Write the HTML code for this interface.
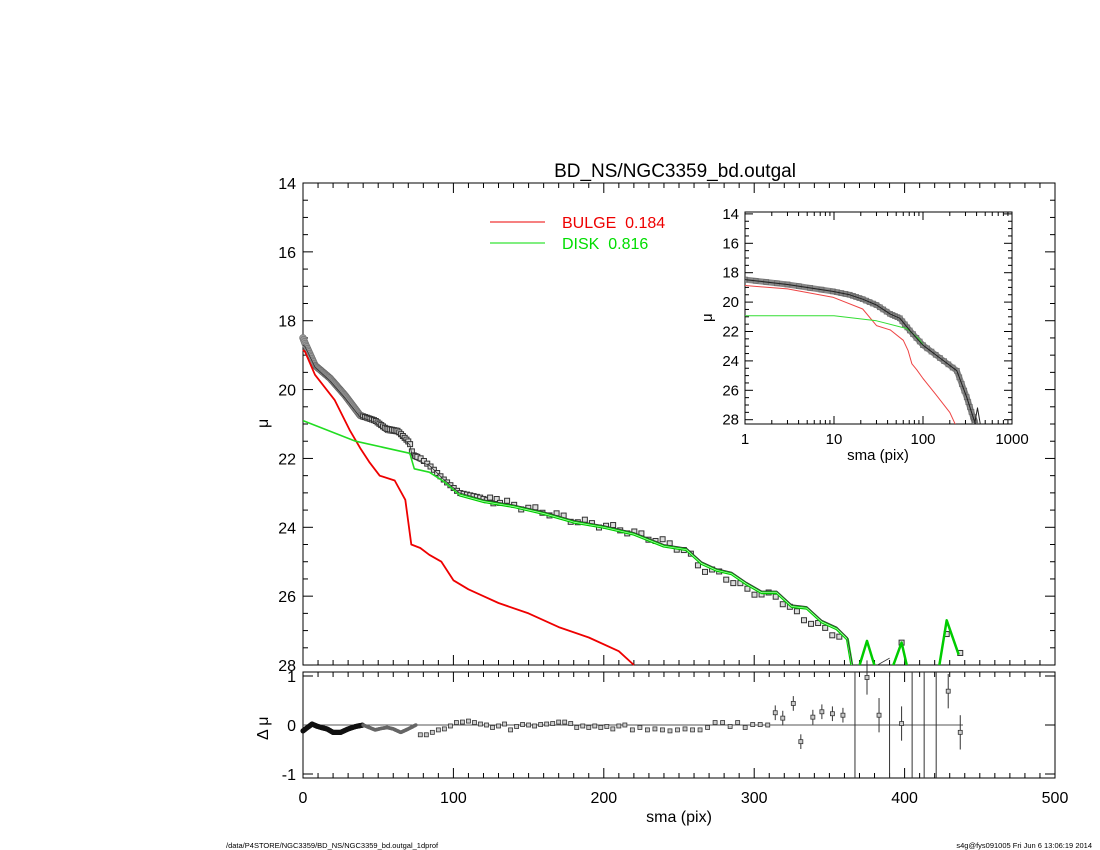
<!DOCTYPE html>
<html><head><meta charset="utf-8"><style>
body{margin:0;background:#fff}
svg{display:block;font-family:"Liberation Sans",sans-serif}
</style></head><body>
<svg id="s" width="1100" height="850" viewBox="0 0 1100 850" xmlns="http://www.w3.org/2000/svg">
<text x="675" y="177" font-size="19" text-anchor="middle">BD_NS/NGC3359_bd.outgal</text>
<text x="226" y="848" font-size="7.5">/data/P4STORE/NGC3359/BD_NS/NGC3359_bd.outgal_1dprof</text>
<text x="1092" y="848" font-size="7.5" text-anchor="end">s4g@fys091005  Fri Jun  6 13:06:19 2014</text>
<line x1="490" y1="222" x2="545" y2="222" stroke="#e00" stroke-width="1"/>
<text x="562" y="228" font-size="16" fill="#e00">BULGE&#160;&#160;0.184</text>
<line x1="490" y1="243" x2="545" y2="243" stroke="#0d0" stroke-width="1"/>
<text x="562" y="249" font-size="16" fill="#0d0">DISK&#160;&#160;0.816</text>
<g id="g"></g>
</svg>
<script>
var g=document.getElementById('g'),h='';
function X(s){return 303+s*1.504}
function Y(m){return 183+(m-14)*34.43}
function RY(d){return 725-d*49}
function pl(pts,c,w,fx,fy){return '<polyline fill="none" stroke="'+c+'" stroke-width="'+w+'" stroke-linejoin="round" points="'+pts.map(p=>fx(p[0]).toFixed(1)+','+fy(p[1]).toFixed(1)).join(' ')+'"/>';}
function interp(a,x){for(var i=1;i<a.length;i++){if(x<=a[i][0]){var t=(x-a[i-1][0])/(a[i][0]-a[i-1][0]);return a[i-1][1]+t*(a[i][1]-a[i-1][1]);}}return a[a.length-1][1];}
h+='<defs><clipPath id="c1"><rect x="303" y="183" width="752" height="482"/></clipPath><clipPath id="c2"><rect x="745" y="212" width="267" height="212"/></clipPath></defs>';
h+='<rect x="303" y="183" width="752" height="482" fill="none" stroke="#000" stroke-width="1"/>';
h+='<rect x="303" y="672" width="752" height="106" fill="none" stroke="#000" stroke-width="1"/>';
for(var s=0;s<=500;s+=10){var L=(s%100==0)?10:5;var x=X(s);
h+='<line x1="'+x+'" y1="665" x2="'+x+'" y2="'+(665-L)+'" stroke="#000"/><line x1="'+x+'" y1="183" x2="'+x+'" y2="'+(183+L)+'" stroke="#000"/>';
h+='<line x1="'+x+'" y1="778" x2="'+x+'" y2="'+(778-L)+'" stroke="#000"/><line x1="'+x+'" y1="672" x2="'+x+'" y2="'+(672+L)+'" stroke="#000"/>';
if(s%100==0)h+='<text x="'+x+'" y="803" font-size="16" text-anchor="middle">'+s+'</text>';}
h+='<text x="679" y="822" font-size="16" text-anchor="middle">sma (pix)</text>';
for(var m=14;m<=28;m+=0.5){var y=Y(m),L=(m%2==0)?10:5;
h+='<line x1="303" y1="'+y+'" x2="'+(303+L)+'" y2="'+y+'" stroke="#000"/><line x1="1055" y1="'+y+'" x2="'+(1055-L)+'" y2="'+y+'" stroke="#000"/>';
if(m%2==0)h+='<text x="296" y="'+(y+6)+'" font-size="16" text-anchor="end">'+m+'</text>';}
h+='<text x="268" y="428" font-size="16" transform="rotate(-90 268 428)">μ</text>';
[-1,0,1].forEach(function(d){var y=RY(d);h+='<text x="296" y="'+(y+6)+'" font-size="16" text-anchor="end">'+d+'</text><line x1="303" y1="'+y+'" x2="313" y2="'+y+'" stroke="#000"/><line x1="1055" y1="'+y+'" x2="1045" y2="'+y+'" stroke="#000"/>';});
h+='<text x="268" y="740" font-size="16" transform="rotate(-90 268 740)">Δ μ</text>';
h+='<line x1="303" y1="725" x2="963" y2="725" stroke="#555"/>';
var obs=[[0,18.5],[1.3,18.65],[8,19.3],[18,19.67],[28,20.17],[38,20.75],[48,20.9],[55,21.13],[63,21.2],[71,21.55],[73,21.9],[78,21.99],[84,22.2],[94,22.63],[104,23.0],[124,23.2],[135,23.3],[150,23.45],[165,23.6],[180,23.8],[200,23.95],[215,24.1],[230,24.3],[245,24.5],[255,24.7],[265,25.2],[275,25.3],[285,25.55],[295,25.8],[305,25.95],[315,26.0],[325,26.4],[335,26.7],[345,26.9],[358,27.2]];
var mod=[[0,18.7],[1.3,18.75],[8,19.35],[18,19.75],[28,20.25],[38,20.8],[48,20.95],[55,21.25],[63,21.3],[71,21.6],[73,22.0],[78,22.1],[84,22.2],[94,22.63],[104,23.0],[120,23.2],[140,23.35],[160,23.55],[180,23.8],[200,23.95],[220,24.15],[240,24.5],[255,24.6],[265,25.0],[275,25.2],[285,25.3],[295,25.6],[305,25.85],[315,25.85],[325,26.25],[335,26.3],[345,26.7],[355,26.9],[362,27.2],[366,28.2]];
var dsk1=[[0,20.9],[35,21.5],[71,21.85],[74,22.3],[84,22.4],[94,22.68],[104,23.06]];
var dsk2=[[104,23.06],[120,23.25],[140,23.4],[160,23.6],[180,23.85],[200,24.0],[220,24.2],[240,24.55],[255,24.65],[265,25.05],[275,25.25],[285,25.35],[295,25.65],[305,25.9],[315,25.9],[325,26.3],[335,26.35],[345,26.75],[355,26.95],[362,27.25],[366,28.3]];
for(var s=0;s<=358;s+=(s<40?0.5:(s<75?1.2:(s<130?2.2:4.7)))){
 var m=interp(obs,s)+(s>120?Math.sin(s*1.7)*0.08:0);
 if(s<40){h+='<circle cx="'+X(s)+'" cy="'+Y(m)+'" r="3.5" fill="#999" stroke="#666" stroke-width="0.5"/>';}
 else h+='<rect x="'+(X(s)-2.5)+'" y="'+(Y(m)-2.5)+'" width="5" height="5" fill="#ddd" stroke="#333" stroke-width="1"/>';
}
[[398,27.35],[437,27.65],[428,27.1]].forEach(function(p){h+='<rect x="'+(X(p[0])-2.5)+'" y="'+(Y(p[1])-2.5)+'" width="5" height="5" fill="#ddd" stroke="#333"/>';});
var bul=[[0,18.85],[1.3,18.9],[8,19.57],[21,20.3],[31,21.17],[38,21.7],[44,22.1],[51,22.5],[61,22.64],[68,23.2],[72,24.5],[78,24.6],[84,24.8],[92,25.0],[100,25.54],[110,25.8],[120,26.0],[130,26.2],[150,26.5],[170,26.9],[190,27.2],[210,27.6],[220,28.0]];
h+=pl(bul,'#e00',1.8,X,Y);
h+='<g clip-path="url(#c1)">'+pl(dsk1,'#2d2',1.6,X,Y)+pl(dsk2,'#0c0',3,X,Y)+pl(dsk2,'#bfb',0.7,X,Y)+pl(mod,'#333',0.8,X,Y)
 +pl([[368,28.3],[375,27.3],[382,28.3]],'#0c0',2.5,X,Y)+pl([[390,28.3],[398,27.35],[403,28.3]],'#0c0',2.5,X,Y)
 +pl([[422,28.3],[428,26.7],[436,27.7]],'#0c0',2.5,X,Y)+pl([[382,28],[390,27.8]],'#333',0.8,X,Y)+'</g>';
var rc=[[0,-0.12],[3,-0.05],[6,0.02],[9,-0.02],[12,-0.05],[16,-0.08],[20,-0.15],[25,-0.15],[30,-0.08],[35,-0.03],[40,0],[44,-0.05],[48,-0.1],[52,-0.07],[56,-0.05],[60,-0.08],[65,-0.15],[70,-0.08],[75,0]];
for(var s=0;s<=75;s+=0.5){var d=interp(rc,s);
 h+='<circle cx="'+X(s)+'" cy="'+RY(d)+'" r="'+(s<40?2.6:1.8)+'" fill="'+(s<40?'#111':'#666')+'"/>';}
var res=[[78,-0.2],[82,-0.2],[86,-0.15],[90,-0.1],[94,-0.08],[98,-0.02],[102,0.05],[106,0.06],[110,0.08],[114,0.05],[118,0.02],[122,0],[126,-0.05],[130,-0.02],[134,0.02],[138,-0.1],[142,-0.03],[146,0.01],[150,0.0],[154,-0.02],[158,0.01],[162,0.02],[166,0.03],[170,0.06],[174,0.06],[178,0.03],[182,-0.05],[186,-0.02],[190,-0.05],[194,-0.02],[198,-0.05],[202,-0.03],[206,-0.08],[210,-0.02],[214,0.0],[219,-0.1],[224,-0.05],[229,-0.1],[234,-0.08],[239,-0.1],[244,-0.12],[249,-0.1],[254,-0.08],[259,-0.1],[264,-0.1],[269,-0.05],[274,0.05],[279,0.05],[284,-0.03],[289,0.05],[294,-0.05],[299,0.01],[304,0.01],[309,0],[314,0.25],[319,0.14],[326,0.44],[331,-0.34],[339,0.16],[345,0.27],[352,0.23],[359,0.2],[375,0.97],[383,0.2],[398,0.03],[429,0.69],[437,-0.15]];
res.forEach(function(p){var x=X(p[0]),y=RY(p[1]);if(p[0]>310){var e=p[0]>360?0.35:0.15;h+='<line x1="'+x+'" y1="'+RY(p[1]+e)+'" x2="'+x+'" y2="'+RY(p[1]-e)+'" stroke="#333"/>';}
 h+='<rect x="'+(x-2)+'" y="'+(y-2)+'" width="4" height="4" fill="#ccc" stroke="#333" stroke-width="0.8"/>';});
[367,390,405,413,421].forEach(function(s){h+='<line x1="'+X(s)+'" y1="672" x2="'+X(s)+'" y2="778" stroke="#333"/>';});
// inset
function IX(s){return 745+Math.log10(s)*89}
function IY(m){return 213.9+(m-14)*14.7}
h+='<rect x="745" y="212" width="267" height="212" fill="#fff" stroke="#000"/>';
for(var d=0;d<3;d++)for(var k=1;k<10;k++){var x=IX(k*Math.pow(10,d)),L=k==1?8:4;h+='<line x1="'+x+'" y1="424" x2="'+x+'" y2="'+(424-L)+'" stroke="#000"/><line x1="'+x+'" y1="212" x2="'+x+'" y2="'+(212+L)+'" stroke="#000"/>';}
[[1,'1'],[10,'10'],[100,'100'],[1000,'1000']].forEach(function(p){h+='<text x="'+IX(p[0])+'" y="444" font-size="15" text-anchor="middle">'+p[1]+'</text>';});
h+='<text x="878" y="460" font-size="15" text-anchor="middle">sma (pix)</text>';
for(var m=14;m<=28;m+=0.5){var y=IY(m),L=(m%2==0)?8:4;h+='<line x1="745" y1="'+y+'" x2="'+(745+L)+'" y2="'+y+'" stroke="#000"/><line x1="1012" y1="'+y+'" x2="'+(1012-L)+'" y2="'+y+'" stroke="#000"/>';
 if(m%2==0)h+='<text x="739" y="'+(y+5)+'" font-size="15" text-anchor="end">'+m+'</text>';}
h+='<text x="712" y="322" font-size="15" transform="rotate(-90 712 322)">μ</text>';
var iobs=[[1,18.47],[3,18.8],[9.7,19.27],[15,19.5],[21,19.8],[30,20.2],[42.6,20.8],[55,21.1],[71,21.93],[100,22.93],[155,23.8],[240,24.67],[310,26.47],[365,27.8],[390,28.3]];
h+='<g clip-path="url(#c2)">';
h+=pl(iobs,'#888',6,IX,IY);
for(var i=0;i<iobs.length-1;i++){for(var t=0;t<1;t+=0.25){var s=iobs[i][0]*Math.pow(iobs[i+1][0]/iobs[i][0],t);var m=iobs[i][1]+t*(iobs[i+1][1]-iobs[i][1]);h+='<rect x="'+(IX(s)-2.5)+'" y="'+(IY(m)-2.5)+'" width="5" height="5" fill="none" stroke="#666" stroke-width="0.6"/>';}}
h+=pl([[1,18.87],[3,19.1],[9.7,19.67],[21,20.47],[30,21.6],[43,21.9],[60,22.6],[68,23.3],[75,24.2],[85,24.6],[100,25.2],[140,26.3],[200,27.5],[230,28.3]],'#e44',1,IX,IY);
h+=pl([[1,20.93],[10,20.93],[30,21.27],[66,21.8],[90,22.5],[100,22.9]],'#3d3',1,IX,IY);
h+=pl(iobs,'#222',1,IX,IY);
h+=pl([[380,28.3],[410,27.2],[440,28.3]],'#222',1,IX,IY);
h+='</g>';
g.innerHTML=h;
</script>
</body></html>
